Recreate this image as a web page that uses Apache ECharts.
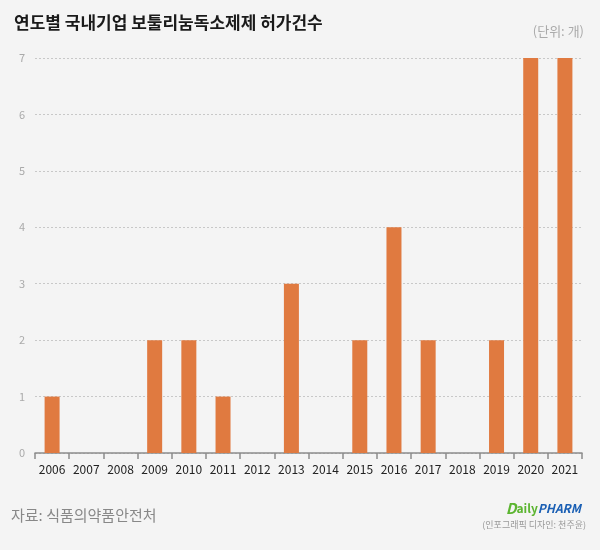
<!DOCTYPE html>
<html>
<head>
<meta charset="utf-8">
<script src="https://cdn.jsdelivr.net/npm/echarts@6/dist/echarts.min.js"></script>
<style>
  html, body { margin: 0; padding: 0; background: #f4f4f4; }
  #chart { width: 600px; height: 550px; }
</style>
</head>
<body>
<div id="chart"></div>
<script>
const years = ['2006', '2007', '2008', '2009', '2010', '2011', '2012', '2013',
  '2014', '2015', '2016', '2017', '2018', '2019', '2020', '2021']
const approvals = [1, 0, 0, 2, 2, 1, 0, 3, 0, 2, 4, 2, 0, 2, 7, 7]

const font = '"Noto Sans CJK KR", "Noto Sans", sans-serif'

const chart = echarts.init(document.getElementById('chart'))

const option = {
  backgroundColor: '#f4f4f4',
  textStyle: { fontFamily: font },
  grid: { left: 35, right: 18, top: 58, bottom: 97 },
  xAxis: {
    type: 'category',
    data: years,
    axisLine: { lineStyle: { color: '#8c8c8c', width: 1.5 } },
    axisTick: { show: true, interval: 0, length: 6, lineStyle: { color: '#8c8c8c', width: 1.5 } },
    axisLabel: { interval: 0, color: '#222', fontSize: 12, margin: 10, fontFamily: font }
  },
  yAxis: {
    type: 'value',
    min: 0,
    max: 7,
    interval: 1,
    axisLine: { show: false },
    axisTick: { show: false },
    axisLabel: { color: '#aaa', fontSize: 11, margin: 10, fontFamily: font },
    splitLine: { lineStyle: { color: '#c8c8c8', type: [2, 2], width: 1 } }
  },
  series: [{
    type: 'bar',
    data: approvals,
    barWidth: 15,
    itemStyle: { color: '#e07a40' }
  }],
  graphic: [
    {
      type: 'text', left: 14, top: 14,
      style: { text: '연도별 국내기업 보툴리눔독소제제 허가건수', font: 'bold 17px ' + font, fill: '#1a1a1a' }
    },
    {
      type: 'text', right: 16, top: 25,
      style: { text: '(단위: 개)', font: '13px ' + font, fill: '#aaa' }
    },
    {
      type: 'text', left: 11, top: 508,
      style: { text: '자료: 식품의약품안전처', font: '15px ' + font, fill: '#888' }
    },
    {
      type: 'text', right: 19, top: 501,
      style: {
        text: '{d|D}{a|aily}{p|PHARM}',
        rich: {
          d: { font: 'bold italic 15px ' + font, fill: '#5cb531' },
          a: { font: 'bold 12px ' + font, fill: '#5cb531' },
          p: { font: 'bold italic 12px ' + font, fill: '#1a5fb4' }
        }
      }
    },
    {
      type: 'text', right: 14, top: 520,
      style: { text: '(인포그래픽 디자인: 천주윤)', font: '9px ' + font, fill: '#999' }
    }
  ]
}

chart.setOption(option)
</script>
</body>
</html>
